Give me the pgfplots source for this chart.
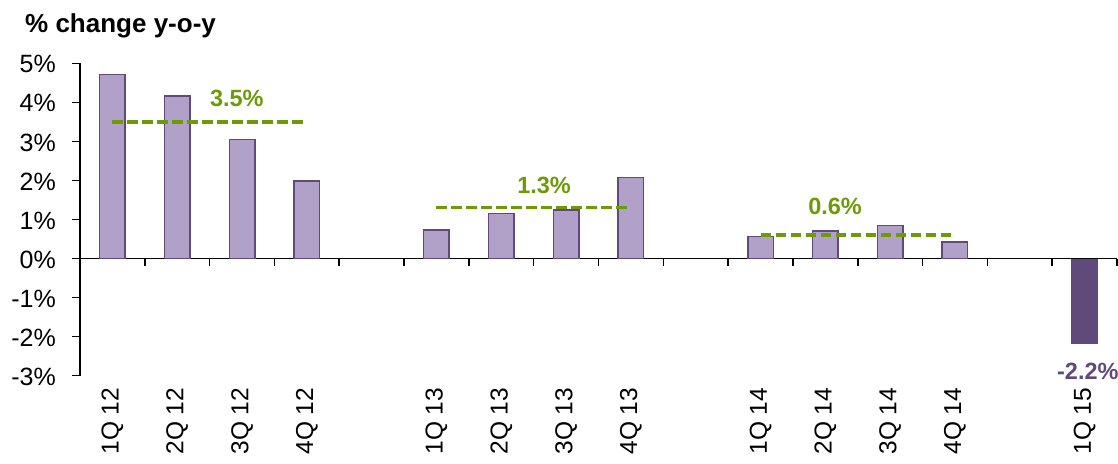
\documentclass[border=0pt]{standalone}
\usepackage{pgfplots}
\pgfplotsset{compat=1.18}
\usepackage{fontspec}
\setmainfont{Liberation Sans}

\definecolor{barfill}{HTML}{B1A0C7}
\definecolor{barline}{HTML}{604A7B}
\definecolor{avggreen}{HTML}{6E9A06}

\begin{document}
\begin{tikzpicture}
\useasboundingbox (-80pt,-87.3pt) rectangle (1038pt,375.7pt);
\begin{axis}[
  scale only axis, width=1037pt, height=312.4pt,
  xmin=-0.5, xmax=15.5, ymin=-3, ymax=5,
  clip=false,
  axis y line=left, axis x line=middle,
  axis line style={-, line width=1.5pt, black},
  ytick={-3,...,5},
  yticklabels={-3\%,-2\%,-1\%,0\%,1\%,2\%,3\%,4\%,5\%},
  ytick align=outside,
  major tick length=8pt,
  every major y tick/.style={black, line width=1.5pt},
  yticklabel style={font=\fontsize{25}{29}\selectfont, anchor=east, inner sep=0pt, xshift=-16pt, yshift=-1pt},
  xtick={0,1,2,3,5,6,7,8,10,11,12,13,15},
  xticklabels={1Q 12,2Q 12,3Q 12,4Q 12,1Q 13,2Q 13,3Q 13,4Q 13,1Q 14,2Q 14,3Q 14,4Q 14,1Q 15},
  every major x tick/.style={draw=none},
  minor xtick={-0.5,0.5,...,15.5},
  xtick align=center,
  minor tick length=7pt,
  every minor x tick/.style={black, line width=1.5pt, yshift=-3.5pt},
  xticklabel shift=125pt,
  xticklabel style={font=\fontsize{24.5}{28}\selectfont, rotate=90, anchor=east, inner sep=0pt},
]
% quarterly growth rates
\addplot[ybar, bar shift=0pt, bar width=25.5pt, fill=barfill, draw=barline, line width=1.5pt]
  coordinates {(0,4.71) (1,4.16) (2,3.05) (3,1.99)
               (5,0.73) (6,1.16) (7,1.24) (8,2.07)
               (10,0.57) (11,0.71) (12,0.85) (13,0.43)};
\addplot[ybar, bar shift=0pt, bar width=27pt, fill=barline, draw=none]
  coordinates {(15,-2.2)};
% yearly averages
\addplot[avggreen, line width=3.4pt, dash pattern=on 10.5pt off 4.5pt] coordinates {(0,3.5) (2.95,3.5)};
\addplot[avggreen, line width=3.4pt, dash pattern=on 10.5pt off 4.5pt] coordinates {(5,1.3) (7.95,1.3)};
\addplot[avggreen, line width=3.4pt, dash pattern=on 10.5pt off 4.5pt] coordinates {(10,0.6) (12.95,0.6)};
\node[avggreen, font=\bfseries\fontsize{23.5}{28}\selectfont] at (axis cs:1.92,4.11) {3.5\%};
\node[avggreen, font=\bfseries\fontsize{23.5}{28}\selectfont] at (axis cs:6.66,1.88) {1.3\%};
\node[avggreen, font=\bfseries\fontsize{23.5}{28}\selectfont] at (axis cs:11.15,1.33) {0.6\%};
\node[barline, font=\bfseries\fontsize{23.5}{28}\selectfont] at (axis cs:15.05,-2.9) {-2.2\%};
\end{axis}
\node[anchor=base west, inner sep=0pt, font=\bfseries\fontsize{26}{30}\selectfont] at (-55pt,342.7pt) {\% change y-o-y};
\end{tikzpicture}
\end{document}
